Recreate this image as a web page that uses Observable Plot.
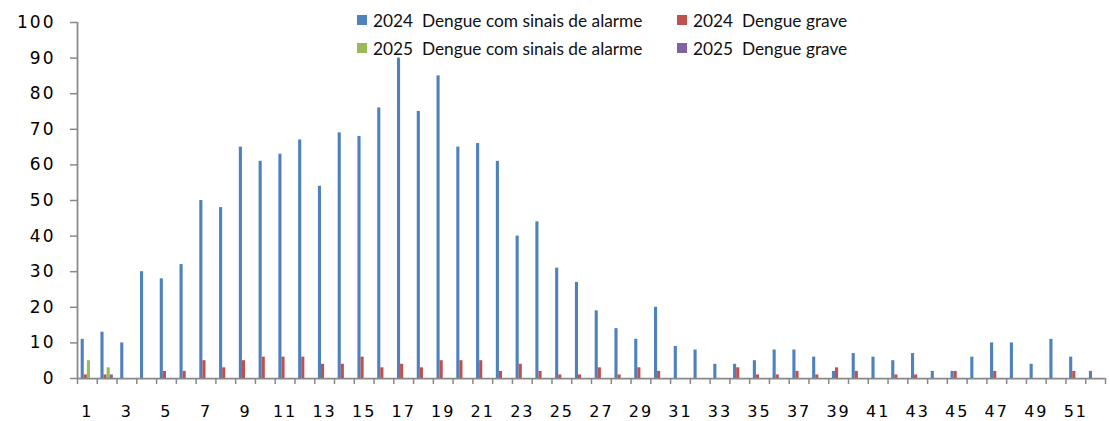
<!DOCTYPE html>
<html><head><meta charset="utf-8">
<script src="https://cdn.jsdelivr.net/npm/d3@7"></script>
<script src="https://cdn.jsdelivr.net/npm/@observablehq/plot@0.6"></script>
<style>
body{margin:0;background:#fff;}
#wrap{position:relative;width:1110px;height:421px;}
#legend{position:absolute;left:357px;top:6px;font-family:Lato,"Open Sans",sans-serif;font-size:17.3px;color:#111;display:grid;grid-template-columns:320px auto;grid-auto-rows:28px;}
.item{display:flex;align-items:center;white-space:pre;}
.sw{width:10px;height:10px;margin-right:6px;flex:none;}
</style>
</head><body>
<div id="wrap"><div id="legend"></div></div>
<script>
const weeks = [1,2,3,4,5,6,7,8,9,10,11,12,13,14,15,16,17,18,19,20,21,22,23,24,25,26,27,28,29,30,31,32,33,34,35,36,37,38,39,40,41,42,43,44,45,46,47,48,49,50,51,52];
const seriesNames = ["2024  Dengue com sinais de alarme", "2024  Dengue grave", "2025  Dengue com sinais de alarme", "2025  Dengue grave"];
const seriesColors = ["#4F81BD", "#C0504D", "#9BBB59", "#8064A2"];
const alarm2024 = [11,13,10,30,28,32,50,48,65,61,63,67,54,69,68,76,90,75,85,65,66,61,40,44,31,27,19,14,11,20,9,8,4,4,5,8,8,6,2,7,6,5,7,2,2,6,10,10,4,11,6,2];
const grave2024 = [1,1,0,0,2,2,5,3,5,6,6,6,4,4,6,3,4,3,5,5,5,2,4,2,1,1,3,1,3,2,0,0,0,3,1,1,2,1,3,2,0,1,1,0,2,0,2,0,0,0,2,0];
const alarm2025 = [5,3];
const grave2025 = [0,1];
const yTicks = [0,10,20,30,40,50,60,70,80,90,100];
const xLabels = [1,3,5,7,9,11,13,15,17,19,21,23,25,27,29,31,33,35,37,39,41,43,45,47,49,51];

const allSeries = [alarm2024, grave2024, alarm2025, grave2025];
const rows = [];
allSeries.forEach((arr, i) => arr.forEach((v, j) => {
  if (v > 0) rows.push({week: weeks[j], series: seriesNames[i], idx: i, value: v});
}));
const bw = 0.157, start = -0.314;
const boundaries = weeks.map(w => w - 0.5).concat([weeks[weeks.length - 1] + 0.5]);

const chart = Plot.plot({
  width: 1110, height: 421,
  marginTop: 22, marginBottom: 43, marginLeft: 77, marginRight: 5,
  style: {fontFamily: "'DejaVu Sans', Verdana, sans-serif", fontSize: "17px", color: "#000", background: "#fff", letterSpacing: "2px", overflow: "visible"},
  x: {domain: [boundaries[0], boundaries[boundaries.length - 1]]},
  y: {domain: [0, 100]},
  color: {domain: seriesNames, range: seriesColors},
  marks: [
    Plot.rectY(rows, {x1: d => d.week + start + d.idx * bw, x2: d => d.week + start + (d.idx + 1) * bw, y: "value", fill: "series"}),
    Plot.ruleY([0], {stroke: "#888", strokeWidth: 1.75}),
    Plot.ruleX([boundaries[0]], {y1: 0, y2: 100, stroke: "#888", strokeWidth: 1.75}),
    Plot.axisY({ticks: yTicks, tickSize: 7, tickPadding: 15, stroke: "#888", strokeWidth: 1.5, label: null, tickFormat: d => String(d)}),
    Plot.axisX({ticks: boundaries, tickSize: 6, tickFormat: () => "", stroke: "#888", strokeWidth: 1.5, label: null}),
    Plot.axisX({ticks: xLabels, tickSize: 0, tickPadding: 27, fontSize: 16, tickFormat: d => String(d), label: null})
  ]
});
document.getElementById("wrap").prepend(chart);

const legend = document.getElementById("legend");
[0, 1, 2, 3].forEach(i => {
  const it = document.createElement("div");
  it.className = "item";
  const sw = document.createElement("span");
  sw.className = "sw";
  sw.style.background = seriesColors[i];
  it.appendChild(sw);
  it.appendChild(document.createTextNode(seriesNames[i]));
  legend.appendChild(it);
});
</script>
</body></html>
